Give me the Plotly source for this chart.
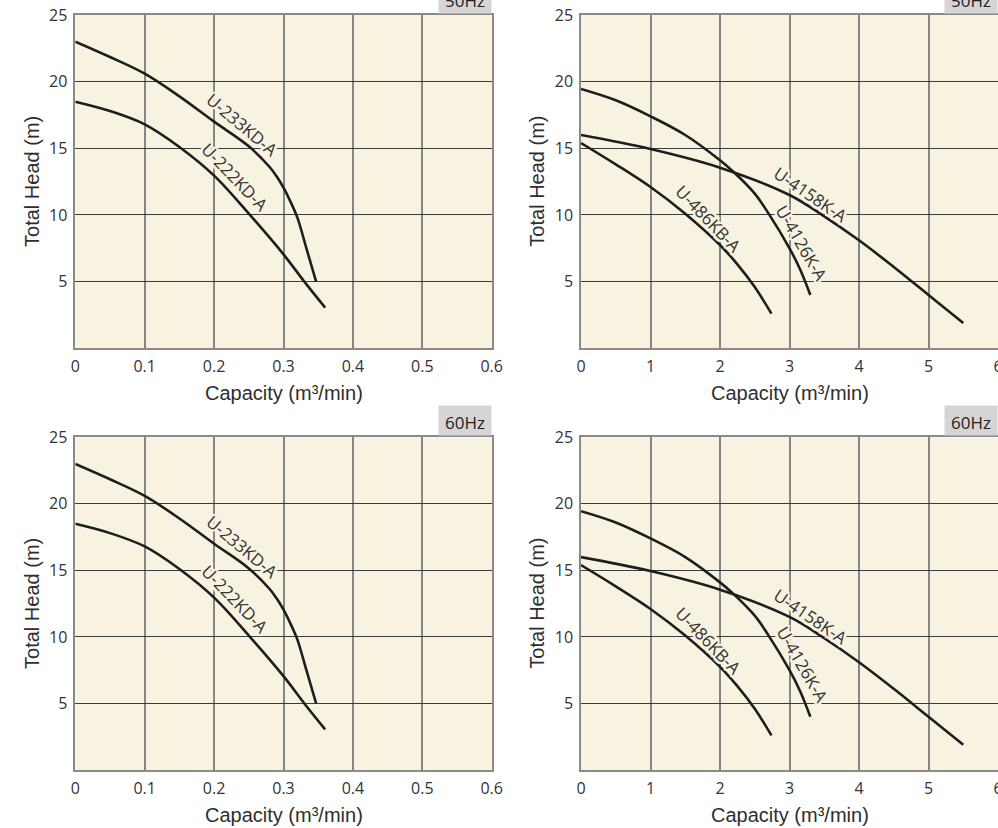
import plotly.graph_objects as go

# ---------------- data ----------------
cap_233 = [0, 0.05, 0.1, 0.15, 0.2, 0.25, 0.28, 0.29, 0.3, 0.31, 0.32, 0.333, 0.347]
head_233 = [23.0, 21.85, 20.6, 18.9, 17.0, 15.15, 13.6, 12.9, 12.05, 11.0, 9.8, 7.5, 5.0]

cap_222 = [0, 0.05, 0.1, 0.15, 0.2, 0.25, 0.3, 0.33, 0.36]
head_222 = [18.5, 17.8, 16.8, 15.1, 12.95, 10.1, 7.05, 5.0, 3.05]

cap_4126 = [0, 0.5, 1, 1.5, 2, 2.2, 2.5, 2.7, 3.0, 3.15, 3.3]
head_4126 = [19.45, 18.6, 17.4, 16.0, 14.1, 13.2, 11.6, 10.1, 7.5, 5.95, 4.0]

cap_4158 = [0, 1, 2, 3, 3.5, 4, 4.5, 5, 5.5]
head_4158 = [16.0, 14.95, 13.55, 11.5, 9.9, 8.1, 6.1, 4.0, 1.9]

cap_486 = [0, 0.5, 1, 1.5, 2, 2.25, 2.5, 2.74]
head_486 = [15.4, 13.8, 12.1, 10.1, 7.75, 6.3, 4.6, 2.6]

small_ticks = [0, 0.1, 0.2, 0.3, 0.4, 0.5, 0.6]
small_tick_text = ["0", "0.1", "0.2", "0.3", "0.4", "0.5", "0.6"]
large_ticks = [0, 1, 2, 3, 4, 5, 6]
large_tick_text = ["0", "1", "2", "3", "4", "5", "6"]
head_ticks = [5, 10, 15, 20, 25]
head_tick_text = ["5", "10", "15", "20", "25"]

freq_labels = ["50Hz", "50Hz", "60Hz", "60Hz"]
x_title = "Capacity (m³/min)"
y_title = "Total Head (m)"

# curve labels: text, x, y (data), angle
small_labels = [("U-233KD-A", 0.238, 16.67, 40), ("U-222KD-A", 0.228, 12.82, 46)]
large_labels = [("U-486KB-A", 1.81, 9.62, 46), ("U-4158K-A", 3.285, 11.42, 34),
                ("U-4126K-A", 3.155, 7.82, 60)]
# small pixel nudges away from the curves (xshift, yshift)
small_label_shift = [(1.5, 1.5), (1, 1)]
large_label_shift = [(1.5, 1.5), (1.5, 2), (2, 1)]

# ---------------- layout helpers ----------------
W, H = 998, 828
PLOT_BG = "#f8f2e1"
LINE = "#1e1e1e"

xdom_left = [75.3 / W, 491.7 / W]
xdom_right = [581.0 / W, 1.0]
ydom_top = [1 - 348.3 / H, 1 - 15.0 / H]
ydom_bot = [1 - 770.0 / H, 1 - 437.3 / H]

panels = [
    ("", xdom_left, ydom_top, True),
    ("2", xdom_right, ydom_top, False),
    ("3", xdom_left, ydom_bot, True),
    ("4", xdom_right, ydom_bot, False),
]

halo = ", ".join(f"{dx}px {dy}px 0 {PLOT_BG}" for dx, dy in
                 [(2, 0), (-2, 0), (0, 2), (0, -2), (1.5, 1.5), (-1.5, 1.5), (1.5, -1.5),
                  (-1.5, -1.5), (3, 0), (-3, 0), (0, 3), (0, -3)])

fig = go.Figure()
tick_font = dict(family="Open Sans, sans-serif", size=16, color="#333333")
title_font = dict(family="Liberation Sans, Arial, sans-serif", size=20, color="#2e2e2e")
label_font = dict(family="Open Sans, sans-serif", size=17, color="#333333", shadow=halo)

annotations = []
layout_axes = {}
for i, (sfx, xd, yd, small) in enumerate(panels):
    xa = "x" + sfx
    ya = "y" + sfx
    if small:
        series = [(cap_233, head_233), (cap_222, head_222)]
        labels, shifts = small_labels, small_label_shift
        xr = [0, 0.6]
        tv, tt = small_ticks, small_tick_text
    else:
        series = [(cap_4126, head_4126), (cap_4158, head_4158), (cap_486, head_486)]
        labels, shifts = large_labels, large_label_shift
        xr = [0, 6]
        tv, tt = large_ticks, large_tick_text
    for cx, hy in series:
        fig.add_trace(go.Scatter(x=cx, y=hy, mode="lines", xaxis=xa, yaxis=ya,
                                 line=dict(color=LINE, width=2.6, shape="spline", smoothing=1.0),
                                 showlegend=False, hoverinfo="skip"))
    layout_axes["xaxis" + sfx] = dict(
        domain=xd, range=xr, anchor=ya, tickvals=tv, ticktext=tt,
        showgrid=True, gridcolor="#858585", gridwidth=1.5,
        showline=True, linecolor="#8a8a8a", linewidth=1.5, mirror=True,
        zeroline=False, ticks="", ticklabelstandoff=3, tickfont=tick_font,
        automargin=False, ticklabeloverflow="allow", fixedrange=True)
    layout_axes["yaxis" + sfx] = dict(
        domain=yd, range=[0, 25], anchor=xa, tickvals=head_ticks, ticktext=head_tick_text,
        showgrid=True, gridcolor="#3c3c3c", gridwidth=1.2,
        showline=True, linecolor="#8a8a8a", linewidth=1.5, mirror=True,
        zeroline=False, ticks="", ticklabelstandoff=3, tickfont=tick_font,
        automargin=False, ticklabeloverflow="allow", fixedrange=True)
    for (txt, lx, ly, ang), (sx, sy) in zip(labels, shifts):
        annotations.append(dict(x=lx, y=ly, xref=xa, yref=ya, text=txt, showarrow=False,
                                textangle=ang, font=label_font, xshift=sx, yshift=sy))
    annotations.append(dict(x=1, y=1, xref=xa + " domain", yref=ya + " domain",
                            xanchor="right", yanchor="bottom", yshift=1,
                            text=freq_labels[i], showarrow=False, width=50, height=27,
                            valign="bottom", bgcolor="#d5d5d5",
                            font=dict(family="Open Sans, sans-serif", size=17, color="#222222")))
    annotations.append(dict(x=(xd[0] + xd[1]) / 2, y=yd[0], xref="paper", yref="paper",
                            yshift=-45, xanchor="center", yanchor="middle", text=x_title,
                            showarrow=False, font=title_font))
    annotations.append(dict(x=xd[0], y=(yd[0] + yd[1]) / 2, xref="paper", yref="paper",
                            xshift=-44, xanchor="center", yanchor="middle", textangle=-90,
                            text=y_title, showarrow=False, font=title_font))

fig.update_layout(width=W, height=H, margin=dict(l=0, r=0, t=0, b=0, autoexpand=False),
                  paper_bgcolor="white", plot_bgcolor=PLOT_BG,
                  annotations=annotations, **layout_axes)

fig.write_html("out.html", config={"displayModeBar": False},
               post_script="document.body.style.margin='0';")
